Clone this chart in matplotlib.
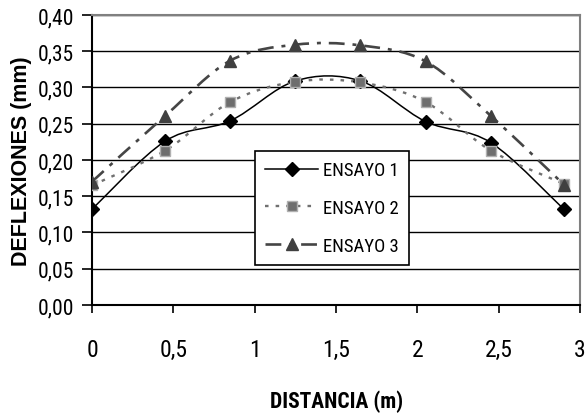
import matplotlib
matplotlib.use("Agg")
import matplotlib.pyplot as plt
from matplotlib.path import Path
from matplotlib.patches import PathPatch
from matplotlib.lines import Line2D
from matplotlib.ticker import FuncFormatter, MultipleLocator

# datos
distancia = [0, 0.45, 0.85, 1.25, 1.65, 2.05, 2.45, 2.9]
ensayo1 = [0.132, 0.226, 0.254, 0.309, 0.309, 0.253, 0.224, 0.132]
ensayo2 = [0.165, 0.213, 0.280, 0.308, 0.307, 0.280, 0.213, 0.167]
ensayo3 = [0.170, 0.261, 0.337, 0.359, 0.358, 0.336, 0.261, 0.166]
nombres = ["ENSAYO 1", "ENSAYO 2", "ENSAYO 3"]

narrow = ["Roboto Condensed", "Liberation Sans", "DejaVu Sans"]


# curva suavizada tipo Excel (bezier por tramos)
def curva_suave(x, y):
    n = len(x)
    verts = [(x[0], y[0])]
    codes = [Path.MOVETO]
    for i in range(n - 1):
        x0, y0 = (x[i - 1], y[i - 1]) if i > 0 else (x[i], y[i])
        x3, y3 = (x[i + 2], y[i + 2]) if i + 2 < n else (x[i + 1], y[i + 1])
        c1 = (x[i] + (x[i + 1] - x0) / 6, y[i] + (y[i + 1] - y0) / 6)
        c2 = (x[i + 1] - (x3 - x[i]) / 6, y[i + 1] - (y3 - y[i]) / 6)
        verts += [c1, c2, (x[i + 1], y[i + 1])]
        codes += [Path.CURVE4] * 3
    return Path(verts, codes)


fig = plt.figure(figsize=(5.86, 4.14), dpi=100)
ax = fig.add_axes([0.157, 0.261, 0.833, 0.7005])

estilos = [
    dict(color="black", ls="-", lw=1.1, marker="D", mfc="black", mec="black", ms=7),
    dict(color="#707070", ls=(0, (1.5, 3)), lw=1.7, marker="s", mfc="#6e6e6e", mec="#b0b0b0", ms=6.5),
    dict(color="#454545", ls=(0, (6, 3, 1.5, 3)), lw=1.9, marker="^", mfc="#404040", mec="#404040", ms=8.5),
]

handles = []
for serie, est, nom in zip([ensayo1, ensayo2, ensayo3], estilos, nombres):
    patch = PathPatch(curva_suave(distancia, serie), fill=False, edgecolor=est["color"],
                      linestyle=est["ls"], linewidth=est["lw"], zorder=3)
    ax.add_patch(patch)
    ax.plot(distancia, serie, ls="none", marker=est["marker"], mfc=est["mfc"],
            mec=est["mec"], ms=est["ms"], zorder=4)
    handles.append(Line2D([], [], color=est["color"], ls=est["ls"], lw=est["lw"],
                          marker=est["marker"], mfc=est["mfc"], mec=est["mec"], ms=est["ms"]))

ax.set_xlim(0, 3)
ax.set_ylim(0, 0.40)
ax.xaxis.set_major_locator(MultipleLocator(0.5))
ax.yaxis.set_major_locator(MultipleLocator(0.05))
ax.xaxis.set_major_formatter(FuncFormatter(lambda v, p: ("%g" % v).replace(".", ",")))
ax.yaxis.set_major_formatter(FuncFormatter(lambda v, p: ("%.2f" % v).replace(".", ",")))
ax.grid(axis="y", color="black", lw=1.0)
ax.set_axisbelow(True)

for lado in ["top", "right"]:
    ax.spines[lado].set_color("#808080")
    ax.spines[lado].set_linewidth(1.5)
for lado in ["left", "bottom"]:
    ax.spines[lado].set_color("black")
    ax.spines[lado].set_linewidth(1.5)

ax.tick_params(axis="y", direction="out", length=7, width=1.2, pad=6)
ax.tick_params(axis="x", direction="out", length=6, width=1.2, pad=18)
for t in ax.get_yticklabels():
    t.set_fontfamily(narrow)
    t.set_fontsize(15.5)
for t in ax.get_xticklabels():
    t.set_fontfamily(narrow)
    t.set_fontsize(17)

ax.set_ylabel("DEFLEXIONES (mm)", fontsize=15.5, fontweight="bold",
              family=["Liberation Sans", "DejaVu Sans"], labelpad=4)
ax.set_xlabel("DISTANCIA (m)", fontsize=15.5, fontweight="bold", family=narrow, labelpad=20)

leg = ax.legend(handles, nombres, loc="upper left", bbox_to_anchor=(0.334, 0.531),
                frameon=True, fancybox=False, edgecolor="black", framealpha=1,
                prop={"family": narrow, "size": 13.5}, handlelength=2.8,
                borderpad=0.55, labelspacing=1.05, handletextpad=0.25, borderaxespad=0)
leg.get_frame().set_linewidth(1.2)

fig.savefig("out.png", dpi=100)
